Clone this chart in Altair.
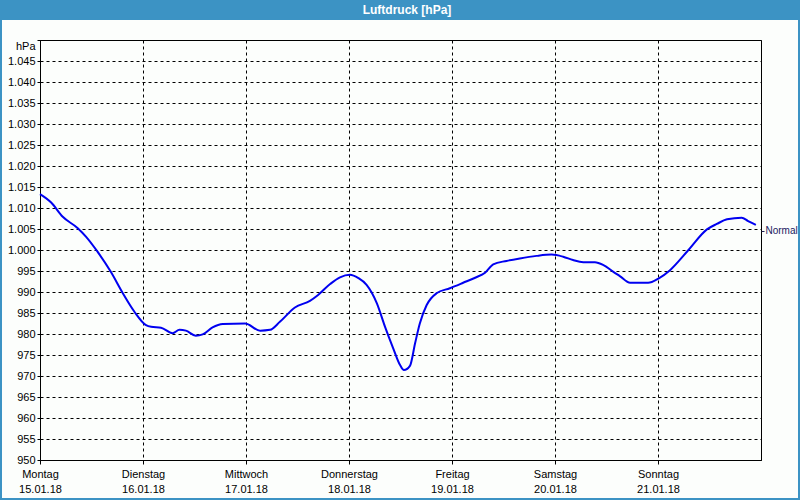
import altair as alt
import pandas as pd

# ---- data ----
hours = [0, 2.6, 5.3, 8.8, 10.7, 13.4, 16.5, 19.3, 22.0, 24.7, 25.9, 28.2, 30.9, 32.5, 34.0,
         36.3, 37.9, 40.2, 42.6, 47.8, 51.3, 53.6, 55.9, 59.4, 62.9, 64.8, 67.6, 69.9, 72.2,
         74.2, 76.1, 78.5, 80.4, 82.3, 83.9, 84.8, 86.2, 87.4, 88.5, 90.1, 92.4, 95.5, 98.6,
         101.4, 103.7, 105.6, 108.7, 111.8, 115.7, 119.2, 121.9, 124.2, 126.6, 129.3, 131.3,
         133.6, 135.1, 137.5, 141.7, 144.1, 146.8, 151.1, 155.4, 157.7, 160.1, 163.5, 165.0, 166.8]
pressure = [1013.3, 1011.3, 1007.9, 1005.2, 1003.2, 999.6, 994.8, 989.7, 985.3, 982.1, 981.7,
            981.5, 980.2, 981.0, 980.8, 979.6, 979.9, 981.6, 982.4, 982.5, 980.8, 981.0, 982.9,
            986.3, 987.9, 989.3, 991.9, 993.5, 994.1, 993.3, 991.7, 987.3, 981.7, 976.6, 972.6,
            971.4, 972.4, 977.8, 982.5, 986.9, 989.7, 990.9, 992.2, 993.4, 994.6, 996.6, 997.4,
            998.0, 998.6, 998.9, 998.4, 997.6, 997.1, 997.1, 996.4, 994.8, 993.8, 992.2, 992.2,
            993.2, 995.2, 1000.0, 1004.9, 1006.2, 1007.3, 1007.7, 1006.9, 1006.0]
day_names = ["Montag", "Dienstag", "Mittwoch", "Donnerstag", "Freitag", "Samstag", "Sonntag"]
day_dates = ["15.01.18", "16.01.18", "17.01.18", "18.01.18", "19.01.18", "20.01.18", "21.01.18"]
y_ticks = list(range(950, 1051, 5))
normal_value = 1004.6
title_text = "Luftdruck [hPa]"

FONT = "Liberation Sans"
BLUE = "#3c93c4"

df = pd.DataFrame({"h": hours, "p": pressure})
one = pd.DataFrame({"a": [0]})

x_label_expr = "[" + ",".join(f"['{n}','{d}']" for n, d in zip(day_names, day_dates)) + "][round(datum.value/24)]"
y_label_expr = ("datum.value >= 1050 ? 'hPa' : (datum.value >= 1000 ? '1.' + format(datum.value - 1000, '03d')"
                " : format(datum.value, 'd'))")

xscale = alt.Scale(domain=[0, 168], nice=False, zero=False)
yscale = alt.Scale(domain=[950, 1050], nice=False, zero=False)

line = alt.Chart(df).mark_line(color="#0000f0", strokeWidth=2, interpolate="monotone").encode(
    x=alt.X("h:Q", scale=xscale, title=None,
            axis=alt.Axis(values=[0, 24, 48, 72, 96, 120, 144], labelExpr=x_label_expr,
                          grid=True, gridColor="black", gridDash=[3, 3], gridOpacity=1,
                          domainColor="black", tickColor="black", tickSize=4,
                          labelColor="black", labelFont=FONT, labelFontSize=11,
                          labelLineHeight=15, labelPadding=4, labelAlign="center",
                          labelBaseline="top", labelFlush=False)),
    y=alt.Y("p:Q", scale=yscale, title=None,
            axis=alt.Axis(values=y_ticks, labelExpr=y_label_expr,
                          grid=True, gridColor="black", gridDash=[3, 3], gridOpacity=1,
                          domainColor="black", tickColor="black", tickSize=3,
                          labelColor="black", labelFont=FONT, labelFontSize=11,
                          labelBaseline={"condition": {"test": "datum.value >= 1050", "value": "top"},
                                         "value": "middle"},
                          labelPadding=2, labelFlush=False)),
)

normal = alt.Chart(one).mark_point(opacity=0).encode(
    y=alt.Y("v:Q", scale=yscale, title=None,
            axis=alt.Axis(orient="right", values=[normal_value], labelExpr="'Normal'",
                          grid=False, domain=False, tickColor="#202050", tickSize=3,
                          labelColor="#202060", labelFont=FONT, labelFontSize=10,
                          labelPadding=1)),
).transform_calculate(v=str(normal_value))

# window frame decorations (title bar and blue border)
bar = alt.Chart(one).mark_rect(color=BLUE).encode(
    x=alt.value(-40), x2=alt.value(760), y=alt.value(-40), y2=alt.value(-20))
left_b = alt.Chart(one).mark_rect(color=BLUE).encode(
    x=alt.value(-40), x2=alt.value(-38), y=alt.value(-20), y2=alt.value(460))
right_b = alt.Chart(one).mark_rect(color=BLUE).encode(
    x=alt.value(758), x2=alt.value(760), y=alt.value(-20), y2=alt.value(460))
bottom_b = alt.Chart(one).mark_rect(color=BLUE).encode(
    x=alt.value(-40), x2=alt.value(760), y=alt.value(458), y2=alt.value(460))
title = alt.Chart(one).mark_text(color="white", font=FONT, fontSize=12, fontWeight="bold",
                                 align="center", baseline="middle").encode(
    x=alt.value(367), y=alt.value(-30), text=alt.value(title_text))

chart = alt.layer(line, normal, bar, left_b, right_b, bottom_b, title).resolve_scale(
    y="independent"
).properties(
    width=721, height=420,
    autosize=alt.AutoSizeParams(type="none"),
    padding={"left": 40, "top": 40, "right": 39, "bottom": 40},
    background="#fcfefc",
).configure_view(stroke="black", strokeWidth=1)

chart.save("out.html", embed_options={"renderer": "svg", "actions": False})
